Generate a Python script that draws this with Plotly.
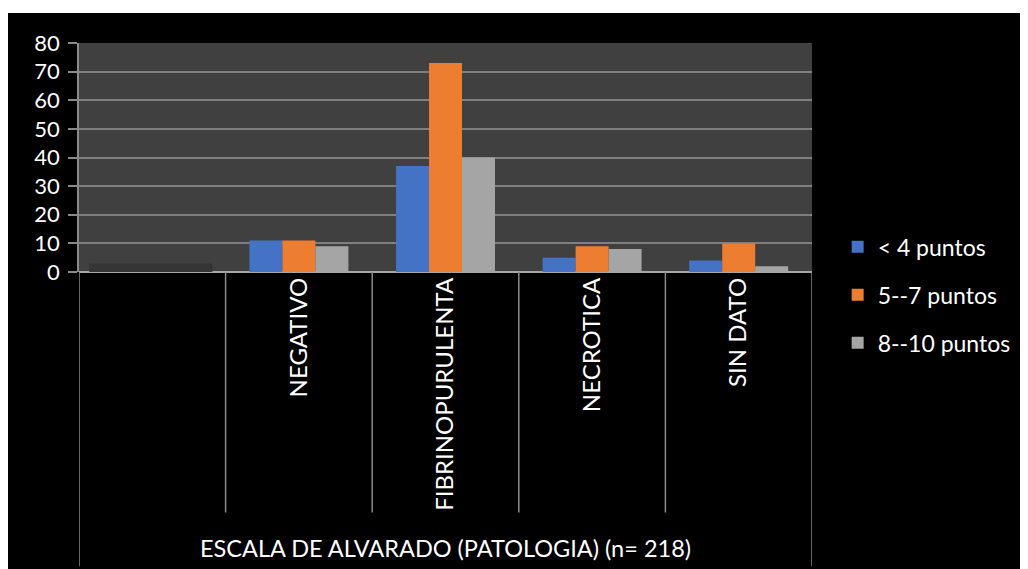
import plotly.graph_objects as go

categories = ["", "NEGATIVO", "FIBRINOPURULENTA", "NECROTICA", "SIN DATO"]
series_names = ["< 4 puntos", "5--7 puntos", "8--10 puntos"]
menos4 = [None, 11, 37, 5, 4]
de5a7 = [None, 11, 73, 9, 10]
de8a10 = [None, 9, 40, 8, 2]
blank_cat_value = [3]
outer_label = "ESCALA DE ALVARADO (PATOLOGIA) (n= 218)"

colors = ["#4472C4", "#ED7D31", "#A5A5A5"]
FONT = "Lato"
xs = list(range(len(categories)))

fig = go.Figure()

# dark bar in the blank first category
fig.add_trace(go.Bar(x=[xs[0]], y=blank_cat_value, width=0.84, offset=-0.43,
                     marker=dict(color="#353535", line=dict(width=0)),
                     showlegend=False, hoverinfo="skip"))

bw = 0.225
offsets = [-1.5 * bw, -0.5 * bw, 0.5 * bw]
for name, vals, col, off in zip(series_names, [menos4, de5a7, de8a10], colors, offsets):
    fig.add_trace(go.Bar(x=xs, y=vals, name=name, width=bw, offset=off,
                         marker=dict(color=col, line=dict(width=0)),
                         legendgroup=name))

# divider lines below axis
for i in range(len(categories) + 1):
    xv = i - 0.5
    outer = i == 0 or i == len(categories)
    fig.add_shape(type="line", xref="x", yref="paper", x0=xv, x1=xv,
                  y0=0, y1=(-1.285 if outer else -1.05),
                  line=dict(color="#8a8a8a", width=1.5), layer="above")

fig.add_annotation(text=outer_label, xref="paper", yref="paper", x=0.5, y=-1.205,
                   showarrow=False, font=dict(family=FONT, size=23.5, color="white"),
                   xanchor="center", yanchor="middle")

# thin white strip on top
fig.add_shape(type="rect", xref="paper", yref="paper", x0=-0.2, x1=1.4,
              y0=1.131, y1=1.3, fillcolor="white", line=dict(width=0), layer="below")

fig.update_layout(
    width=1020, height=561,
    margin=dict(l=71, r=204, t=35, b=297),
    paper_bgcolor="black",
    plot_bgcolor="#404040",
    font=dict(family=FONT, size=22, color="white"),
    barmode="group",
    showlegend=True,
    legend=dict(x=1.035, y=-0.1, xanchor="left", yanchor="middle",
                traceorder="grouped", tracegroupgap=15,
                font=dict(family=FONT, size=23, color="white"),
                bgcolor="rgba(0,0,0,0)", itemwidth=30),
    xaxis=dict(range=[-0.5, len(categories) - 0.5], tickvals=xs, ticktext=categories,
               tickangle=-90, showgrid=False, zeroline=False, showline=False,
               ticks="", tickfont=dict(family=FONT, size=24, color="white"),
               fixedrange=True),
    yaxis=dict(range=[0, 80], dtick=10, showgrid=True, gridcolor="#7f7f7f",
               gridwidth=2, zeroline=True, zerolinecolor="#a6a6a6", zerolinewidth=2,
               ticks="outside", ticklen=9, tickcolor="#8a8a8a", tickwidth=2,
               tickfont=dict(family=FONT, size=22, color="white"), ticklabelstandoff=4,
               showline=True, linecolor="#8a8a8a", linewidth=1.5),
)

fig.write_html("out.html")
